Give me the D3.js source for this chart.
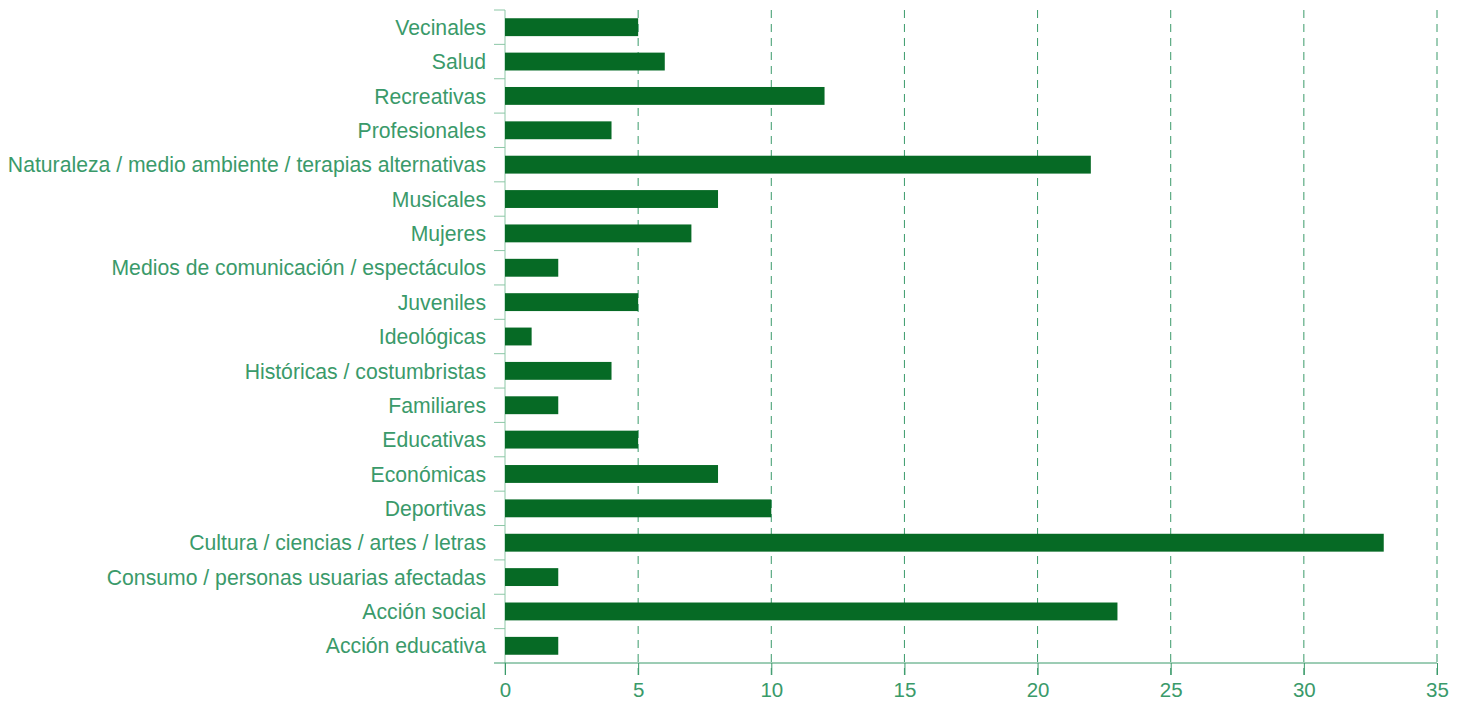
<!DOCTYPE html>
<html>
<head>
<meta charset="utf-8">
<script src="https://cdn.jsdelivr.net/npm/d3@7"></script>
<style>
  body { margin: 0; background: #fff; }
  text { font-family: "Liberation Sans", Arial, sans-serif; }
</style>
</head>
<body>
<div id="chart-area"></div>
<script>
const categories = [
  "Vecinales", "Salud", "Recreativas", "Profesionales",
  "Naturaleza / medio ambiente / terapias alternativas", "Musicales", "Mujeres",
  "Medios de comunicación / espectáculos", "Juveniles", "Ideológicas",
  "Históricas / costumbristas", "Familiares", "Educativas", "Económicas",
  "Deportivas", "Cultura / ciencias / artes / letras",
  "Consumo / personas usuarias afectadas", "Acción social", "Acción educativa"
];
const counts = [5, 6, 12, 4, 22, 8, 7, 2, 5, 1, 4, 2, 5, 8, 10, 33, 2, 23, 2];
const xTicks = [0, 5, 10, 15, 20, 25, 30, 35];

const chartSize = { width: 1467, height: 702 };
const margin = { left: 505, right: 30, top: 10, bottom: 39 };
const width = 1437 - margin.left;
const height = chartSize.height - margin.top - margin.bottom;
const textColor = "#3a9a6a";
const barColor = "#066a25";

const data = categories.map((c, i) => ({ name: c, value: counts[i] }));

const svg = d3.select("#chart-area")
  .append("svg")
  .attr("width", chartSize.width)
  .attr("height", chartSize.height);

const g = svg.append("g")
  .attr("transform", `translate(${margin.left},${margin.top})`);

const x = d3.scaleLinear().domain([0, 35]).range([0, width]);
const y = d3.scaleBand()
  .domain(categories)
  .range([0, height])
  .paddingInner(0.48)
  .paddingOuter(0.24);

// dashed vertical grid
g.selectAll(".grid")
  .data(xTicks.filter(d => d > 0))
  .enter().append("line")
  .attr("class", "grid")
  .attr("x1", d => x(d)).attr("x2", d => x(d))
  .attr("y1", 0).attr("y2", height + 12)
  .attr("stroke", textColor)
  .attr("stroke-width", 1)
  .attr("stroke-dasharray", "8,6");

// y axis: ticks between bands
const yAxisG = g.append("g").attr("class", "y axis");
yAxisG.append("line")
  .attr("x1", 0).attr("x2", 0)
  .attr("y1", 0).attr("y2", height + 12)
  .attr("stroke", "#8cc7a6");
const bounds = d3.range(categories.length).map(i => i * y.step());
yAxisG.selectAll(".ytick")
  .data(bounds)
  .enter().append("line")
  .attr("x1", -11).attr("x2", 0)
  .attr("y1", d => d).attr("y2", d => d)
  .attr("stroke", "#8cc7a6");
yAxisG.selectAll(".ylabel")
  .data(categories)
  .enter().append("text")
  .attr("x", -19)
  .attr("y", d => y(d) + y.bandwidth() / 2)
  .attr("dy", "0.36em")
  .attr("text-anchor", "end")
  .attr("fill", textColor)
  .attr("font-size", 21.2)
  .text(d => d);

// x axis
const xAxis = d3.axisBottom(x).tickValues(xTicks).tickSize(12).tickPadding(7);
const xAxisG = g.append("g")
  .attr("class", "x axis")
  .attr("transform", `translate(0,${height})`)
  .call(xAxis);
xAxisG.select(".domain").remove();
xAxisG.append("line")
  .attr("x1", -11).attr("x2", width)
  .attr("stroke", textColor);
xAxisG.selectAll(".tick line").attr("stroke", textColor);
xAxisG.selectAll(".tick text")
  .attr("fill", textColor)
  .attr("font-size", 20.5)
  .attr("font-family", "Liberation Sans, Arial, sans-serif");

// bars
g.selectAll("rect.bar")
  .data(data)
  .enter().append("rect")
  .attr("class", "bar")
  .attr("x", 0)
  .attr("y", d => y(d.name))
  .attr("width", d => x(d.value))
  .attr("height", y.bandwidth())
  .attr("fill", barColor);
</script>
</body>
</html>
